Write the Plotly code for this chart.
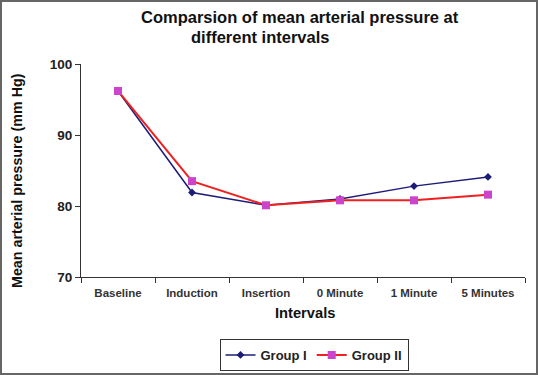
import plotly.graph_objects as go

categories = ["Baseline", "Induction", "Insertion", "0 Minute", "1 Minute", "5 Minutes"]
group1 = [96.2, 81.9, 80.1, 81.0, 82.8, 84.1]
group2 = [96.2, 83.5, 80.1, 80.8, 80.8, 81.6]
y_ticks = [70, 80, 90, 100]

FONT = "Liberation Sans, Arial, sans-serif"
W, H = 538, 375
L, R, T, B = 81, 13, 64, 98
pw, ph = W - L - R, H - T - B

def px2x(px):
    return (px - L) / pw

def py2y(py):
    return (H - B - py) / ph

fig = go.Figure()
fig.add_trace(go.Scatter(
    x=categories, y=group1, name="Group I", mode="lines+markers",
    line=dict(color="#1c1c78", width=1.5),
    marker=dict(symbol="diamond", size=6, color="#1c1c78"),
))
fig.add_trace(go.Scatter(
    x=categories, y=group2, name="Group II", mode="lines+markers",
    line=dict(color="#f02020", width=2),
    marker=dict(symbol="square", size=8, color="#cc44cc"),
))

fig.update_layout(
    width=W, height=H,
    margin=dict(l=L, r=R, t=T, b=B, autoexpand=False),
    paper_bgcolor="white", plot_bgcolor="white",
    font=dict(family=FONT, color="#222222"),
    showlegend=True,
    legend=dict(
        orientation="h", x=px2x(314), y=py2y(339), xanchor="center", yanchor="top",
        bordercolor="#333333", borderwidth=1, bgcolor="white",
        font=dict(family=FONT, size=13, color="#222222", weight="bold"),
        itemwidth=30, tracegroupgap=0,
    ),
    xaxis=dict(
        type="category", range=[-0.5, 5.5], automargin=False,
        showline=True, linecolor="#333333", linewidth=1,
        ticks="outside", tickson="boundaries", ticklen=5, tickcolor="#333333",
        ticklabelstandoff=5,
        tickfont=dict(family=FONT, size=11.5, color="#333333", weight="bold"),
        showgrid=False, zeroline=False,
    ),
    yaxis=dict(
        range=[70, 100], tickvals=y_ticks, automargin=False,
        showline=True, linecolor="#333333", linewidth=1,
        ticks="outside", ticklen=5, tickcolor="#333333",
        tickfont=dict(family=FONT, size=13.5, color="#222222", weight="bold"),
        showgrid=False, zeroline=False,
    ),
    annotations=[
        dict(text="Comparsion of mean arterial pressure at", xref="paper", yref="paper",
             x=px2x(300), y=py2y(17), xanchor="center", yanchor="middle", showarrow=False,
             font=dict(family=FONT, size=16.5, color="#111111", weight="bold")),
        dict(text="different intervals", xref="paper", yref="paper",
             x=px2x(260), y=py2y(37), xanchor="center", yanchor="middle", showarrow=False,
             font=dict(family=FONT, size=16.5, color="#111111", weight="bold")),
        dict(text="Mean arterial pressure (mm Hg)", xref="paper", yref="paper",
             x=px2x(17), y=py2y(181), xanchor="center", yanchor="middle", showarrow=False,
             textangle=-90,
             font=dict(family=FONT, size=14.3, color="#111111", weight="bold")),
        dict(text="Intervals", xref="paper", yref="paper",
             x=px2x(305), y=py2y(313), xanchor="center", yanchor="middle", showarrow=False,
             font=dict(family=FONT, size=14.7, color="#111111", weight="bold")),
    ],
    shapes=[
        dict(type="rect", xref="paper", yref="paper",
             x0=px2x(1), x1=px2x(537), y0=py2y(374), y1=py2y(1),
             line=dict(color="#666666", width=2), layer="below"),
    ],
)

fig.write_html(
    "out.html",
    config={"displayModeBar": False},
    post_script="document.body.style.margin='0';document.body.style.overflow='hidden';",
)
